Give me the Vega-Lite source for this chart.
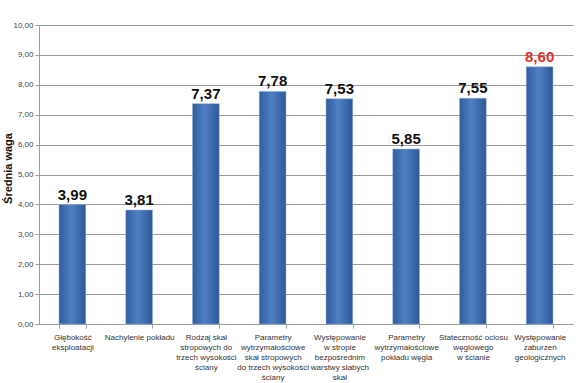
{
  "$schema": "https://vega.github.io/schema/vega-lite/v6.json",
  "width": 534,
  "height": 299,
  "autosize": {"type": "none"},
  "padding": {"left": 39, "top": 25, "right": 11, "bottom": 59},
  "background": "white",
  "config": {
    "view": {"stroke": null},
    "font": "Liberation Sans",
    "locale": {
      "number": {"decimal": ",", "thousands": " ", "grouping": [3], "currency": ["", " zł"]}
    }
  },
  "data": {
    "values": [
      {"k": "Głębokość\neksploatacji", "v": 3.99, "hl": 0},
      {"k": "Nachylenie pokładu", "v": 3.81, "hl": 0},
      {"k": "Rodzaj skał\nstropowych do\ntrzech wysokości\nściany", "v": 7.37, "hl": 0},
      {"k": "Parametry\nwytrzymałościowe\nskał stropowych\ndo trzech wysokości\nściany", "v": 7.78, "hl": 0},
      {"k": "Występowanie\nw stropie\nbezpośrednim\nwarstwy słabych\nskał", "v": 7.53, "hl": 0},
      {"k": "Parametry\nwytrzymałościowe\npokładu węgla", "v": 5.85, "hl": 0},
      {"k": "Stateczność ociosu\nwęglowego\nw ścianie", "v": 7.55, "hl": 0},
      {"k": "Występowanie\nzaburzeń\ngeologicznych", "v": 8.6, "hl": 1}
    ]
  },
  "encoding": {
    "x": {
      "field": "k",
      "type": "nominal",
      "sort": null,
      "scale": {"paddingInner": 0.6, "paddingOuter": 0.3},
      "axis": {
        "title": null,
        "labelAngle": 0,
        "labelExpr": "split(datum.label, '\\n')",
        "labelFontSize": 8,
        "labelColor": "#333333",
        "labelLineHeight": 10,
        "labelPadding": 5,
        "labelLimit": 0,
        "domainColor": "#9a9a9a",
        "tickColor": "#9a9a9a",
        "tickBand": "extent",
        "tickSize": 4
      }
    },
    "y": {
      "field": "v",
      "type": "quantitative",
      "scale": {"domain": [0, 10]},
      "axis": {
        "title": "Średnia waga",
        "titleFontSize": 11,
        "titleFontWeight": "bold",
        "titleColor": "#111111",
        "titleX": -26,
        "titleY": 143,
        "values": [0, 1, 2, 3, 4, 5, 6, 7, 8, 9, 10],
        "format": ".2f",
        "labelFontSize": 8,
        "labelColor": "#444444",
        "gridColor": "#9a9a9a",
        "domainColor": "#9a9a9a",
        "tickColor": "#9a9a9a",
        "tickSize": 4
      }
    }
  },
  "layer": [
    {
      "mark": {
        "type": "bar",
        "color": {
          "gradient": "linear",
          "x1": 0, "y1": 0, "x2": 1, "y2": 0,
          "stops": [
            {"offset": 0, "color": "#305c9c"},
            {"offset": 0.45, "color": "#4f80c4"},
            {"offset": 1, "color": "#2d5898"}
          ]
        },
        "stroke": "#8fb0dc",
        "strokeWidth": 0.5
      }
    },
    {
      "mark": {"type": "text", "dy": -10, "fontSize": 15, "fontWeight": "bold"},
      "encoding": {
        "text": {"field": "v", "type": "quantitative", "format": ".2f"},
        "color": {
          "condition": {"test": "datum.hl == 1", "value": "#e0312a"},
          "value": "#111111"
        }
      }
    }
  ]
}
